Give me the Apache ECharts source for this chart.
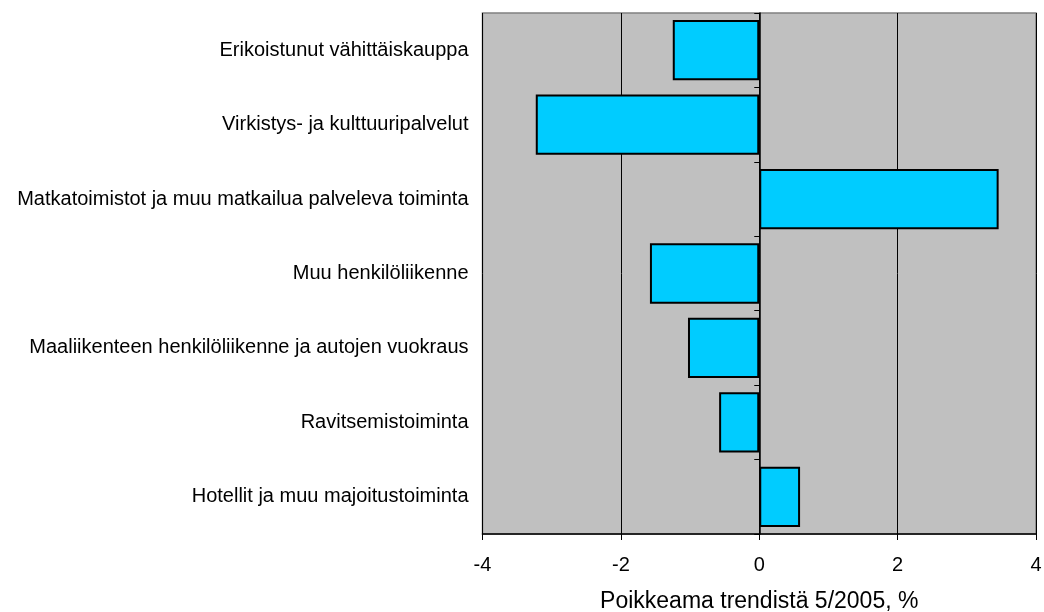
<!DOCTYPE html>
<html>
<head>
<meta charset="utf-8">
<script src="https://cdn.jsdelivr.net/npm/echarts@6/dist/echarts.min.js"></script>
<style>
html,body{margin:0;padding:0;background:#fff;}
#chart{width:1044px;height:612px;}
</style>
</head>
<body>
<div id="chart"></div>
<script>
const categories = [
  'Erikoistunut vähittäiskauppa',
  'Virkistys- ja kulttuuripalvelut',
  'Matkatoimistot ja muu matkailua palveleva toiminta',
  'Muu henkilöliikenne',
  'Maaliikenteen henkilöliikenne ja autojen vuokraus',
  'Ravitsemistoiminta',
  'Hotellit ja muu majoitustoiminta'
];
const values = [-1.25, -3.23, 3.46, -1.58, -1.03, -0.58, 0.59];
const xTicks = [-4, -2, 0, 2, 4];
const xTitle = 'Poikkeama trendistä 5/2005, %';

const chart = echarts.init(document.getElementById('chart'), null, {renderer: 'canvas'});
const font = '"Liberation Sans", Arial, sans-serif';
chart.setOption({
  animation: false,
  backgroundColor: '#ffffff',
  grid: {
    left: 482.5, right: 8, top: 13, bottom: 78,
    containLabel: false, outerBoundsMode: 'none',
    show: true, backgroundColor: '#c0c0c0', borderColor: '#808080', borderWidth: 1.5
  },
  xAxis: {
    type: 'value',
    min: xTicks[0], max: xTicks[xTicks.length - 1], interval: 2,
    name: xTitle, nameLocation: 'middle', nameGap: 56,
    nameTextStyle: {fontFamily: font, fontSize: 23, color: '#000'},
    axisLine: {show: true, onZero: false, lineStyle: {color: '#000', width: 1.5}},
    axisTick: {show: true, inside: false, length: 6, lineStyle: {color: '#000'}},
    axisLabel: {fontFamily: font, fontSize: 20, color: '#000', margin: 21,
      formatter: v => String(v)},
    splitLine: {show: true, lineStyle: {color: '#000', width: 1}}
  },
  yAxis: [{
    type: 'category', data: categories, inverse: true,
    axisLine: {show: false, onZero: false},
    axisTick: {show: false},
    axisLabel: {fontFamily: font, fontSize: 20, color: '#000', margin: 14},
    splitLine: {show: false}
  }, {
    type: 'category', data: categories, inverse: true, position: 'left',
    axisLine: {show: true, onZero: true, lineStyle: {color: '#000', width: 1.5}},
    axisTick: {show: true, inside: false, length: 5, lineStyle: {color: '#000'}},
    axisLabel: {show: false},
    splitLine: {show: false}
  }],
  series: [{
    type: 'bar', yAxisIndex: 0, data: values,
    barCategoryGap: '19%',
    itemStyle: {color: '#00ccff', borderColor: '#000', borderWidth: 2}
  }]
});
</script>
</body>
</html>
